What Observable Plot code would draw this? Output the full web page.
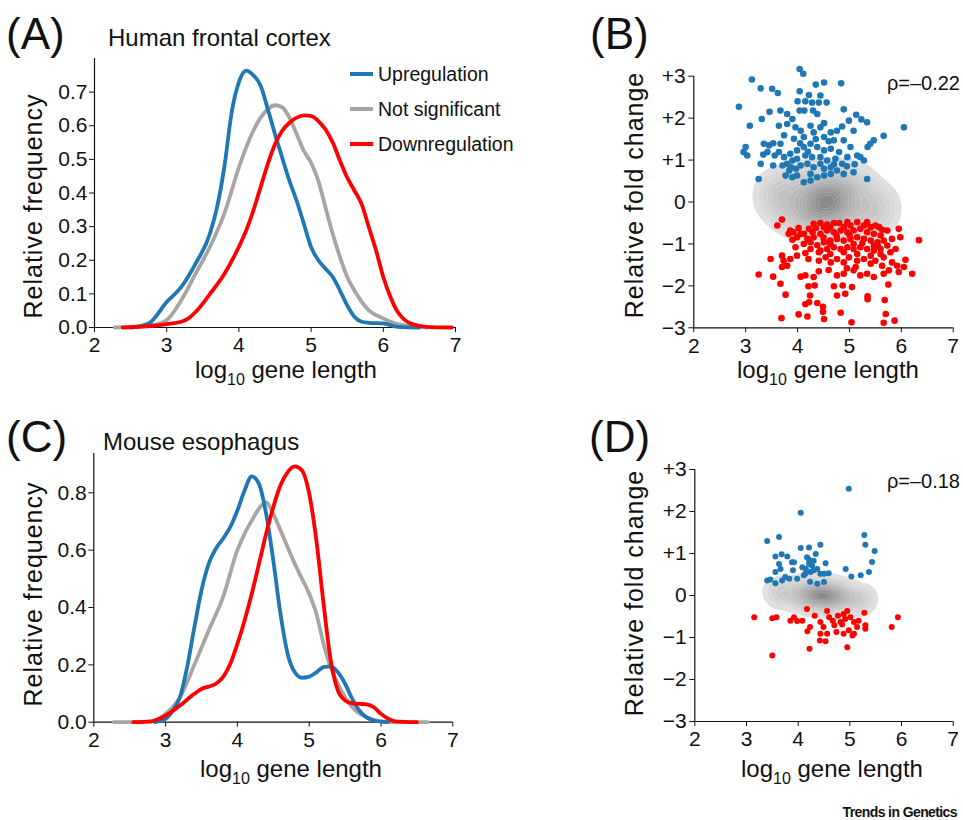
<!DOCTYPE html>
<html>
<head>
<meta charset="utf-8">
<script src="https://cdn.jsdelivr.net/npm/d3@7"></script>
<script src="https://cdn.jsdelivr.net/npm/@observablehq/plot@0.6"></script>
<style>
  html, body { margin: 0; padding: 0; background: #fff; }
  #wrap { position: relative; width: 963px; height: 820px; overflow: hidden; background: #fff; }
  #wrap > svg, #wrap > figure { position: absolute; margin: 0; }
  #ov { position: absolute; left: 0; top: 0; pointer-events: none; }
</style>
</head>
<body>
<div id="wrap"></div>
<script>
const FONT = '"Liberation Sans", Arial, Helvetica, sans-serif';
const BLUE = "#1f77b4", GRAY = "#a9a5a3", RED = "#ff0000";

// ---------- shared ticks ----------
const xTicks = [2, 3, 4, 5, 6, 7];
const aYTicks = [0, 0.1, 0.2, 0.3, 0.4, 0.5, 0.6, 0.7];
const cYTicks = [0, 0.2, 0.4, 0.6, 0.8];
const fcTicks = [-3, -2, -1, 0, 1, 2, 3];
const fcTickLabels = ["\u22123", "\u22122", "\u22121", "0", "+1", "+2", "+3"];
const seriesNames = ["Upregulation", "Not significant", "Downregulation"];
const seriesColors = [BLUE, GRAY, RED];

// ---------- Panel A: human frontal cortex densities ----------
const aUpX = [2.5,2.75,3.0,3.2,3.4,3.6,3.7,3.8,3.9,4.0,4.1,4.2,4.3,4.4,4.5,4.6,4.7,4.8,4.9,5.0,5.1,5.2,5.3,5.4,5.5,5.6,5.7,5.8,6.0,6.2,6.5];
const aUpY = [0,0.012,0.076,0.12,0.19,0.28,0.36,0.48,0.64,0.73,0.764,0.75,0.72,0.65,0.575,0.505,0.436,0.377,0.308,0.239,0.2,0.175,0.15,0.11,0.066,0.032,0.017,0.014,0.012,0.002,0];
const aNsX = [2.28,2.8,3.0,3.2,3.4,3.6,3.8,4.0,4.1,4.2,4.3,4.4,4.5,4.6,4.7,4.8,4.9,5.0,5.1,5.2,5.3,5.4,5.5,5.6,5.8,6.0,6.2,6.4,6.6];
const aNsY = [0,0.007,0.022,0.08,0.16,0.24,0.34,0.476,0.535,0.585,0.624,0.649,0.661,0.655,0.624,0.575,0.525,0.49,0.436,0.357,0.278,0.209,0.15,0.11,0.051,0.027,0.01,0.004,0];
const aDnX = [2.39,2.8,3.0,3.2,3.3,3.4,3.6,3.8,4.0,4.1,4.2,4.3,4.4,4.5,4.6,4.7,4.8,4.9,5.0,5.1,5.2,5.3,5.4,5.5,5.6,5.7,5.8,5.9,6.0,6.1,6.2,6.3,6.4,6.6,6.95];
const aDnY = [0,0.005,0.01,0.017,0.027,0.046,0.1,0.16,0.24,0.288,0.348,0.417,0.486,0.545,0.585,0.609,0.624,0.631,0.629,0.614,0.589,0.55,0.496,0.446,0.407,0.367,0.298,0.229,0.15,0.09,0.046,0.022,0.01,0.002,0];

// ---------- Panel C: mouse esophagus densities ----------
const cUpX = [2.85,3.0,3.1,3.2,3.3,3.4,3.5,3.6,3.7,3.8,3.9,4.0,4.1,4.2,4.3,4.4,4.5,4.6,4.7,4.8,4.9,5.0,5.1,5.2,5.3,5.4,5.5,5.6,5.7,5.8,5.9,6.1];
const cUpY = [0,0.012,0.04,0.087,0.192,0.33,0.46,0.552,0.605,0.64,0.68,0.738,0.808,0.857,0.831,0.727,0.564,0.378,0.238,0.174,0.155,0.159,0.174,0.192,0.195,0.174,0.134,0.081,0.04,0.017,0.006,0];
const cNsX = [2.28,2.8,3.0,3.2,3.4,3.6,3.8,4.0,4.1,4.2,4.3,4.4,4.5,4.6,4.7,4.8,4.9,5.0,5.1,5.2,5.3,5.4,5.5,5.6,5.8,6.0,6.3,6.65];
const cNsY = [0,0.002,0.029,0.087,0.2,0.32,0.436,0.6,0.657,0.703,0.745,0.767,0.727,0.669,0.61,0.552,0.5,0.448,0.378,0.273,0.192,0.134,0.087,0.052,0.017,0.003,0,0];
const cDnX = [2.55,2.8,3.0,3.2,3.4,3.5,3.6,3.7,3.8,3.9,4.0,4.1,4.2,4.3,4.4,4.5,4.6,4.7,4.8,4.9,5.0,5.1,5.2,5.3,5.4,5.5,5.6,5.7,5.8,5.9,6.0,6.1,6.2,6.5];
const cDnY = [0,0.003,0.023,0.058,0.099,0.116,0.124,0.134,0.157,0.203,0.273,0.355,0.448,0.552,0.657,0.75,0.826,0.872,0.892,0.878,0.797,0.634,0.413,0.215,0.11,0.076,0.066,0.064,0.062,0.052,0.029,0.012,0.003,0];

// ---------- Panel B: scatter (log10 length, relative fold change) ----------
const bUp = [[4.04,3.17],[4.11,3.06],[3.12,2.92],[4.51,2.85],[4.84,2.83],[4.35,2.80],[3.29,2.71],[3.51,2.70],[3.62,2.60],[4.04,2.64],[4.22,2.55],[4.44,2.54],[4.00,2.40],[4.15,2.40],[4.28,2.37],[4.41,2.37],[4.56,2.37],[4.13,2.18],[4.04,2.18],[4.89,2.21],[2.87,2.27],[3.46,2.15],[3.67,2.18],[3.31,1.98],[3.08,1.82],[5.13,2.08],[5.23,1.97],[5.34,1.90],[6.05,1.78],[5.66,1.58],[4.30,2.18],[4.38,2.10],[4.51,1.88],[4.99,1.94],[3.80,2.10],[3.90,1.98],[3.64,1.82],[3.80,1.86],[3.96,1.78],[4.06,1.70],[4.25,1.82],[4.44,1.78],[4.64,1.66],[4.76,1.70],[4.86,1.80],[5.08,1.70],[4.31,1.66],[4.12,1.55],[3.93,1.51],[3.74,1.59],[4.51,1.55],[4.70,1.47],[4.89,1.47],[5.47,1.47],[5.40,1.39],[5.35,1.31],[3.00,1.31],[2.96,1.19],[3.03,1.11],[3.35,1.39],[3.45,1.35],[3.53,1.40],[3.42,1.19],[3.34,1.13],[3.56,1.11],[3.67,1.39],[3.64,1.19],[3.29,0.91],[3.53,0.87],[3.25,0.55],[3.74,1.07],[3.86,1.15],[3.99,1.23],[4.12,1.31],[4.25,1.39],[4.38,1.31],[4.51,1.23],[4.64,1.27],[4.80,1.19],[4.96,1.07],[5.15,1.11],[5.28,0.99],[5.21,1.07],[5.02,1.31],[3.80,0.91],[3.90,0.99],[3.99,1.03],[4.15,1.11],[4.28,1.07],[4.44,1.07],[4.57,0.99],[4.73,1.03],[4.86,0.91],[3.71,0.87],[3.84,0.75],[3.97,0.79],[4.06,0.87],[4.19,0.91],[4.31,0.83],[4.44,0.91],[4.51,0.79],[4.64,0.83],[4.76,0.75],[4.89,0.67],[5.08,0.71],[5.34,0.55],[3.77,0.63],[3.90,0.59],[3.99,0.63],[4.12,0.47],[4.25,0.67],[4.38,0.59],[4.51,0.63],[4.64,0.67],[4.25,0.51],[3.87,0.83],[4.20,1.20],[4.60,1.45],[4.35,1.50],[4.05,1.40],[4.70,0.90],[4.95,0.85],[5.10,0.90]];
const bDown = [[3.70,-0.42],[3.61,-0.56],[3.86,-0.68],[4.02,-0.62],[3.90,-0.90],[4.12,-0.76],[4.22,-0.64],[4.31,-0.52],[4.44,-0.50],[4.57,-0.54],[4.70,-0.50],[4.80,-0.50],[4.96,-0.48],[5.15,-0.48],[5.34,-0.48],[5.50,-0.56],[5.63,-0.66],[5.73,-0.68],[5.95,-0.64],[5.98,-0.84],[6.34,-0.91],[5.82,-0.88],[3.99,-0.84],[4.19,-0.88],[4.31,-0.84],[4.44,-0.76],[4.57,-0.68],[4.70,-0.72],[4.83,-0.68],[4.96,-0.72],[5.08,-0.68],[5.21,-0.64],[5.34,-0.72],[5.47,-0.76],[5.60,-0.80],[4.12,-1.00],[4.25,-0.96],[4.38,-1.03],[4.51,-0.96],[4.63,-0.92],[4.76,-0.88],[4.89,-0.92],[5.02,-0.88],[5.15,-0.84],[5.28,-0.88],[5.41,-0.92],[5.54,-0.96],[5.66,-0.92],[3.96,-1.08],[3.99,-1.28],[3.70,-1.28],[3.73,-1.40],[3.86,-1.36],[3.80,-1.52],[3.70,-1.55],[3.48,-1.36],[4.25,-1.12],[4.44,-1.16],[4.57,-1.12],[4.70,-1.08],[4.83,-1.12],[4.96,-1.08],[5.08,-1.12],[5.21,-1.08],[5.34,-1.12],[5.47,-1.16],[5.60,-1.12],[5.73,-1.04],[5.89,-1.12],[4.21,-1.36],[4.41,-1.40],[4.54,-1.32],[4.64,-1.44],[4.76,-1.36],[4.89,-1.44],[4.99,-1.32],[5.15,-1.40],[5.28,-1.36],[5.41,-1.47],[5.50,-1.40],[5.63,-1.52],[5.66,-1.32],[5.82,-1.44],[5.92,-1.52],[6.08,-1.38],[6.05,-1.55],[5.95,-1.67],[6.21,-1.71],[5.76,-1.63],[4.60,-1.62],[4.76,-1.75],[4.89,-1.71],[5.08,-1.63],[5.21,-1.75],[5.34,-1.71],[5.47,-1.79],[5.66,-1.71],[4.41,-1.65],[4.31,-1.79],[4.06,-1.78],[4.15,-1.75],[3.53,-1.78],[3.25,-1.73],[3.67,-1.95],[3.77,-2.21],[4.21,-2.01],[4.33,-1.99],[4.70,-2.01],[4.87,-1.99],[5.05,-2.03],[5.75,-1.97],[4.76,-2.23],[4.92,-2.19],[4.24,-2.23],[4.22,-2.39],[4.15,-2.44],[5.35,-2.25],[5.35,-2.32],[5.68,-2.34],[4.38,-2.41],[4.49,-2.50],[4.49,-2.62],[4.83,-2.64],[4.02,-2.68],[4.19,-2.73],[5.70,-2.67],[3.69,-2.77],[5.04,-2.87],[5.66,-2.88],[5.87,-2.83],[4.51,-2.79],[4.06,-0.76],[4.29,-0.72],[4.51,-0.60],[4.63,-0.60],[4.89,-0.60],[5.02,-0.56],[5.28,-0.56],[5.41,-0.60],[5.57,-0.60],[4.41,-1.20],[4.63,-1.24],[4.89,-1.20],[5.15,-1.24],[5.41,-1.28],[5.60,-1.24],[4.63,-1.00],[5.08,-1.00],[5.47,-1.04],[5.79,-1.20],[3.92,-0.72],[3.83,-0.76],[4.35,-0.62],[4.75,-0.80],[5.00,-0.78],[5.25,-0.98],[4.50,-0.85],[5.12,-1.55],[4.95,-1.58],[5.55,-1.05],[4.15,-1.22]];
// not-significant genes (drawn only as a density cloud)
const bNs = [[4.55,0],[4.55,0],[4.5,0.05],[4.6,-0.05],[4.15,0.05],[4.95,-0.05],[4.55,0.2],[4.55,-0.2],[4.3,-0.12],[4.8,0.12],[4.3,0.15],[4.8,-0.15],[3.75,0.15],[5.35,-0.15],[4.55,0.42],[4.55,-0.42],[4.0,0.35],[5.1,-0.35],[4.0,-0.3],[5.1,0.3],[4.25,-0.4],[4.85,0.4],[3.5,0.15],[5.65,-0.2],[3.62,0.45],[5.5,-0.45],[4.2,0.62],[4.9,-0.58],[5.2,0.5],[3.85,-0.4],[4.75,0.62],[4.35,-0.6],[5.55,0.1],[3.6,-0.1]];

// ---------- Panel D ----------
const dUp = [[4.98,2.54],[4.05,1.97],[3.40,1.30],[3.63,1.39],[4.05,1.13],[4.21,1.14],[4.43,1.21],[5.28,1.44],[5.30,1.21],[5.48,1.06],[5.43,0.80],[5.37,0.56],[5.21,0.48],[5.03,0.45],[4.92,0.63],[3.56,0.93],[3.68,0.98],[3.79,0.93],[3.88,0.79],[3.92,0.79],[4.17,0.91],[4.34,0.99],[4.53,0.77],[3.63,0.75],[3.66,0.63],[3.56,0.56],[3.46,0.38],[3.56,0.29],[3.75,0.44],[3.83,0.40],[3.90,0.60],[3.98,0.40],[4.08,0.67],[4.15,0.63],[4.21,0.75],[4.27,0.71],[4.24,0.56],[4.30,0.60],[4.14,0.52],[4.37,0.63],[4.43,0.52],[4.50,0.52],[4.59,0.53],[4.23,0.33],[4.37,0.28],[4.50,0.32],[3.40,0.36],[3.69,0.36],[4.30,0.83],[4.21,0.85],[4.11,0.48]];
const dDown = [[3.15,-0.52],[3.50,-0.54],[3.58,-0.52],[3.50,-1.43],[3.85,-0.60],[3.92,-0.52],[4.08,-0.60],[4.17,-0.32],[4.23,-0.75],[4.18,-0.85],[4.22,-1.27],[4.32,-0.48],[4.43,-0.63],[4.49,-0.75],[4.43,-0.91],[4.42,-1.07],[4.53,-1.09],[4.56,-0.37],[4.60,-0.52],[4.67,-0.60],[4.70,-0.71],[4.77,-0.48],[4.82,-0.63],[4.74,-0.87],[4.88,-0.44],[4.91,-0.56],[4.95,-0.37],[5.01,-0.52],[5.08,-0.63],[4.98,-0.83],[5.08,-0.91],[4.88,-0.91],[4.95,-1.23],[5.14,-0.75],[5.17,-0.60],[5.28,-0.41],[5.30,-0.71],[5.30,-0.79],[5.05,-0.95],[4.56,-0.91],[3.98,-0.61],[5.81,-0.75],[5.93,-0.52],[4.85,-0.69]];
const dNs = [[4.45,0],[4.45,0],[4.4,0.02],[4.5,-0.02],[4.1,0.04],[4.8,-0.04],[4.45,0.08],[4.45,-0.08],[4.25,-0.04],[4.65,0.04],[3.75,0.08],[5.15,-0.08],[4.0,0.12],[4.9,-0.12],[4.0,-0.06],[4.9,0.06],[4.45,0.15],[4.6,-0.16],[3.55,0.12],[5.3,-0.05],[3.65,0.0],[5.2,-0.18],[4.2,0.2],[4.75,0.15],[4.7,-0.22],[4.2,-0.15]];

const rhoB = "\u03c1=\u20130.22";
const rhoD = "\u03c1=\u20130.18";

// ---------- helpers ----------
const toRows = (xs, ys) => xs.map((x, i) => ({x, y: ys[i]}));
const fcFormat = d => fcTickLabels[fcTicks.indexOf(d)];
const baseStyle = {fontSize: "21px", fontFamily: FONT, color: "#111", background: "transparent", overflow: "visible"};
const wrap = document.getElementById("wrap");
function place(el, left, top) { el.style.left = left + "px"; el.style.top = top + "px"; wrap.appendChild(el); }

function densityPanel(up, ns, dn, yDomain, yTicks, m, w, h) {
  return Plot.plot({
    width: w, height: h,
    marginLeft: m[0], marginRight: m[1], marginTop: m[2], marginBottom: m[3],
    style: baseStyle,
    x: {domain: [2, 7], ticks: xTicks, tickFormat: d3.format("d"), tickSize: 5, tickPadding: 5, label: null},
    y: {domain: yDomain, ticks: yTicks, tickFormat: d3.format(".1f"), tickSize: 5, tickPadding: 2, label: null},
    marks: [
      Plot.ruleX([2], {stroke: "#111", strokeWidth: 1.2}),
      Plot.ruleY([0], {stroke: "#111", strokeWidth: 1.2}),
      Plot.line(ns, {x: "x", y: "y", stroke: GRAY, strokeWidth: 3.8, curve: "monotone-x"}),
      Plot.line(up, {x: "x", y: "y", stroke: BLUE, strokeWidth: 3.8, curve: "monotone-x"}),
      Plot.line(dn, {x: "x", y: "y", stroke: RED, strokeWidth: 3.8, curve: "monotone-x"})
    ]
  });
}

function scatterPanel(up, dn, ns, bw, th, r, m, w, h) {
  return Plot.plot({
    width: w, height: h,
    marginLeft: m[0], marginRight: m[1], marginTop: m[2], marginBottom: m[3],
    style: baseStyle,
    x: {domain: [2, 7], ticks: xTicks, tickFormat: d3.format("d"), tickSize: 5, tickPadding: 5, label: null},
    y: {domain: [-3, 3], ticks: fcTicks, tickFormat: fcFormat, tickSize: 5, tickPadding: 3, label: null},
    color: {type: "linear", range: ["#e5e5e5", "#8a8a8a"]},
    marks: [
      Plot.density(ns, {x: d => d[0], y: d => d[1], fill: "density", bandwidth: bw, thresholds: th, stroke: "#ffffff", strokeOpacity: 0.3, strokeWidth: 0.6}),
      Plot.ruleX([2], {stroke: "#111", strokeWidth: 1.2}),
      Plot.ruleY([-3], {stroke: "#111", strokeWidth: 1.2}),
      Plot.dot(up, {x: d => d[0], y: d => d[1], r, fill: BLUE, stroke: "none"}),
      Plot.dot(dn, {x: d => d[0], y: d => d[1], r, fill: RED, stroke: "none"})
    ]
  });
}

// ---------- build panels ----------
place(densityPanel(toRows(aUpX, aUpY), toRows(aNsX, aNsY), toRows(aDnX, aDnY), [0, 0.8], aYTicks, [94, 25, 58, 73], 480, 400), 0, 0);
place(scatterPanel(bUp, bDown, bNs, 11, 16, 3.3, [103.3, 10.3, 75.7, 72.7], 373, 400), 590, 0);
place(densityPanel(toRows(cUpX, cUpY), toRows(cNsX, cNsY), toRows(cDnX, cDnY), [0, 0.937], cYTicks, [93.3, 27.7, 53, 98.3], 480, 420), 0, 400);
place(scatterPanel(dUp, dDown, dNs, 7, 16, 3.0, [104.3, 10.3, 69, 99], 373, 420), 590, 400);

// ---------- overlay text ----------
const ov = d3.select(wrap).append("svg").attr("id", "ov").attr("width", 963).attr("height", 820)
  .style("font-family", FONT).style("fill", "#111");

function text(x, y, s, size, anchor = "start", extra = {}) {
  const t = ov.append("text").attr("x", x).attr("y", y).attr("font-size", size).attr("text-anchor", anchor).text(s);
  for (const k in extra) t.attr(k, extra[k]);
  return t;
}
function xLabel(x, y) {
  const t = ov.append("text").attr("x", x).attr("y", y).attr("font-size", 24).style("white-space", "pre");
  t.append("tspan").text("log");
  t.append("tspan").attr("font-size", 16).attr("dy", 7).text("10");
  t.append("tspan").attr("dy", -7).text(" gene length");
}
function yLabel(x, y, s) {
  ov.append("text").attr("transform", `translate(${x},${y}) rotate(-90)`).attr("text-anchor", "middle")
    .attr("font-size", 25).attr("letter-spacing", 1).text(s);
}

text(6, 49, "(A)", 44);
text(590, 49, "(B)", 44);
text(6, 452, "(C)", 44);
text(589, 452, "(D)", 44);
text(108, 46, "Human frontal cortex", 24);
text(103, 450, "Mouse esophagus", 24);

xLabel(195, 378);
xLabel(737, 378);
xLabel(200, 777);
xLabel(741, 777);
yLabel(42, 206, "Relative frequency");
yLabel(643, 195, "Relative fold change");
yLabel(42, 594, "Relative frequency");
yLabel(643, 593, "Relative fold change");

text(960, 90, rhoB, 20, "end");
text(960, 488, rhoD, 20, "end");

// legend (panel A)
const legY = [74, 109, 144];
seriesNames.forEach((name, i) => {
  ov.append("line").attr("x1", 350).attr("x2", 373).attr("y1", legY[i]).attr("y2", legY[i])
    .attr("stroke", seriesColors[i]).attr("stroke-width", 4);
  text(378, legY[i], name, 19.5, "start", {dy: "0.35em"});
});

text(957, 817, "Trends in Genetics", 14, "end", {"font-weight": "bold", "letter-spacing": "-0.6"});
</script>
</body>
</html>
